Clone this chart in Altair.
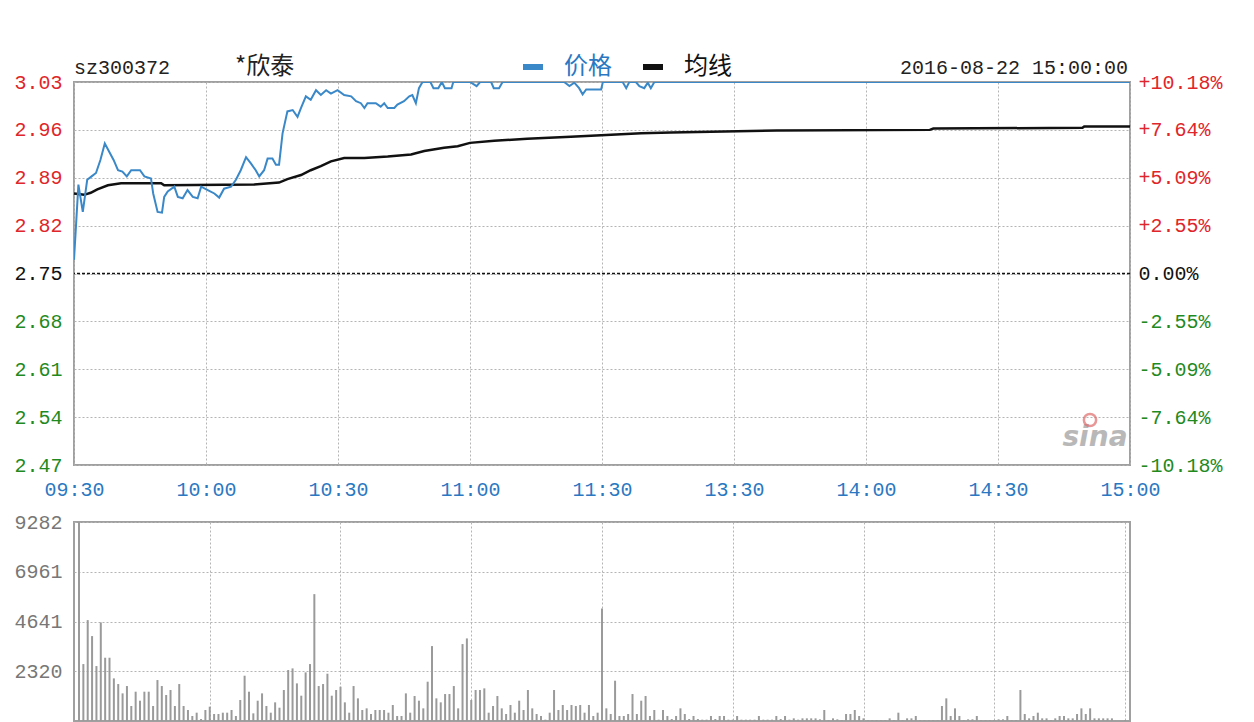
import altair as alt
import pandas as pd

# ---------------- data ----------------
stock_code = "sz300372"
stock_name = "*欣泰"
stamp = "2016-08-22 15:00:00"
prev_close = 2.75

time_labels = ["09:30", "10:00", "10:30", "11:00", "11:30", "13:30", "14:00", "14:30", "15:00"]
tick_minutes = [0, 30, 60, 90, 120, 150, 180, 210, 240]
price_ticks = [2.47, 2.54, 2.61, 2.68, 2.75, 2.82, 2.89, 2.96, 3.03]
vol_ticks = [2320.5, 4641, 6961.5, 9282]

price_t = [0, 1, 2, 3, 4, 5, 6, 7, 8, 9, 10, 11, 12, 13, 15, 16, 17.5, 18, 19, 20, 20.5,
           21.3, 22.8, 23.6, 24.7, 25.8, 27, 28.1, 28.9, 30.4, 31.9, 33, 34.1, 35.7, 36.8,
           37.9, 39.1, 40.2, 41.3, 42.1, 43.2, 44, 45.1, 45.9, 46.6, 47.4, 48.5, 49.7, 50.8,
           51.6, 52.7, 53.8, 55, 56.1, 57.3, 58.4, 59.9, 61.4, 63, 64.1, 65.2, 66, 66.7,
           68.6, 69.7, 70.5, 71.3, 72.8, 73.5, 75, 76.2, 76.9, 77.7, 78.4, 79.2, 81, 81.7,
           82.8, 83.6, 84.3, 85.8, 86.2, 90, 91.5, 92.3, 94.8, 95.4, 96.6, 97.4, 111.4,
           112.6, 113.7, 114.8, 115.6, 116.4, 119.8, 120.2, 124.7, 125.5, 126.2, 127.7,
           128.5, 129.6, 130.4, 131.1, 131.9, 240]
price_v = [2.77, 2.88, 2.84, 2.887, 2.892, 2.897, 2.916, 2.94, 2.928, 2.916, 2.901, 2.899,
           2.892, 2.901, 2.901, 2.892, 2.889, 2.867, 2.84, 2.839, 2.862, 2.87, 2.877, 2.862,
           2.86, 2.872, 2.862, 2.86, 2.877, 2.872, 2.867, 2.861, 2.874, 2.877, 2.887, 2.901,
           2.92, 2.911, 2.901, 2.892, 2.901, 2.918, 2.918, 2.909, 2.909, 2.955, 2.987, 2.989,
           2.979, 2.992, 3.009, 3.004, 3.018, 3.011, 3.018, 3.013, 3.018, 3.011, 3.009, 3.002,
           2.999, 2.992, 2.999, 2.999, 2.994, 2.999, 2.992, 2.992, 2.997, 3.002, 3.009, 3.011,
           2.999, 3.021, 3.03, 3.03, 3.021, 3.021, 3.03, 3.021, 3.021, 3.03, 3.03, 3.024, 3.03,
           3.03, 3.021, 3.021, 3.03, 3.03, 3.024, 3.029, 3.021, 3.012, 3.019, 3.019, 3.03,
           3.03, 3.021, 3.03, 3.03, 3.024, 3.021, 3.029, 3.021, 3.03, 3.03]

avg_t = [0, 2.3, 3.8, 5.3, 7.7, 10.7, 19.8, 20.5, 40.9, 46.6, 48.5, 51.6, 53.8, 56.1, 58.4,
         61.4, 66, 71.3, 76.6, 79.6, 84.1, 87.2, 90, 95.5, 103, 112.9, 119.8, 128.9, 135.7,
         159.7, 194.5, 195.3, 229.2, 229.6, 240]
avg_v = [2.867, 2.865, 2.868, 2.873, 2.879, 2.882, 2.882, 2.879, 2.880, 2.883, 2.888, 2.894,
         2.901, 2.907, 2.914, 2.919, 2.919, 2.921, 2.924, 2.929, 2.934, 2.936, 2.941, 2.944,
         2.947, 2.95, 2.952, 2.955, 2.956, 2.959, 2.96, 2.962, 2.963, 2.965, 2.965]

volume = [9282, 2656, 4707, 3961, 2563, 4598, 2951, 2951, 1988, 1724, 1289, 1631, 699, 1367,
          947, 1367, 1367, 699, 1911, 1631, 1212, 1445, 699, 1724, 699, 513, 233, 388, 92, 513,
          668, 326, 326, 388, 388, 513, 233, 979, 2112, 1367, 357, 947, 1289, 699, 388, 870,
          621, 1445, 2377, 2454, 1755, 1180, 2268, 2656, 5918, 1631, 1724, 2206, 1180, 1445,
          1600, 870, 388, 1631, 1056, 513, 590, 326, 513, 513, 513, 388, 746, 233, 233, 1289,
          388, 1165, 947, 590, 1833, 3495, 1056, 870, 1258, 1258, 1631, 590, 3588, 3852, 979,
          1445, 1445, 1522, 388, 699, 1165, 590, 326, 746, 388, 947, 513, 1445, 590, 326, 233,
          62, 388, 1445, 513, 746, 513, 746, 699, 746, 388, 746, 233, 388, 5250, 590, 326,
          1879, 233, 233, 326, 1258, 326, 947, 1165, 233, 513, 62, 513, 233, 92, 233, 590, 326,
          92, 233, 92, 62, 62, 233, 92, 233, 233, 62, 62, 233, 62, 62, 62, 62, 233, 62, 62, 62,
          233, 92, 233, 62, 124, 62, 124, 124, 124, 124, 78, 513, 47, 124, 78, 47, 326, 326,
          513, 233, 124, 47, 47, 47, 47, 47, 124, 47, 388, 47, 124, 124, 233, 47, 47, 47, 47,
          47, 699, 1056, 233, 590, 233, 47, 78, 78, 233, 47, 47, 47, 47, 78, 78, 233, 47, 47,
          1445, 326, 124, 233, 388, 124, 124, 47, 124, 233, 233, 124, 124, 326, 590, 326, 590,
          124, 124, 124, 124, 124, 0, 0, 47]

# ---------------- styling ----------------
RED = "#e0262b"
GREEN = "#1f8a1f"
AXIS_BLUE = "#2a78c2"
LINE_BLUE = "#3a88c8"
GRID = "#b4b4b4"
MONO = "Liberation Mono"
CJK = "Noto Sans CJK SC"
W = 1056
H_PRICE = 383
H_VOL = 199

price_df = pd.DataFrame({"t": price_t, "v": price_v, "s": "价格"})
avg_df = pd.DataFrame({"t": avg_t, "v": avg_v, "s": "均线"})
vol_df = pd.DataFrame({"t": list(range(len(volume))), "vol": volume})

label_list = "[" + ",".join("'%s'" % s for s in time_labels) + "]"
time_expr = label_list + "[round(datum.value/30)]"
color_expr = (f"datum.value > {prev_close + 0.001} ? '{RED}' : "
              f"(datum.value < {prev_close - 0.001} ? '{GREEN}' : '#111111')")
pct_expr = (f"(datum.value > {prev_close + 0.001} ? '+' : (datum.value < {prev_close - 0.001} ? '-' : '')) + "
            f"format(abs(datum.value/{prev_close}-1)*100, '.2f') + '%'")

x_scale = alt.Scale(domain=[0, 240], nice=False, zero=False)
y_scale = alt.Scale(domain=[2.47, 3.03], nice=False, zero=False)
color_scale = alt.Scale(domain=["价格", "均线"], range=[LINE_BLUE, "#111111"])

x_axis_price = alt.Axis(values=tick_minutes, labelExpr=time_expr, grid=True, gridDash=[2, 2],
                        gridColor=GRID, ticks=False, domain=False, labelColor=AXIS_BLUE,
                        labelFont=MONO, labelFontSize=20, labelPadding=14, labelFlush=False,
                        labelOverlap=False, minExtent=40, maxExtent=40, title=None)
y_axis_left = alt.Axis(values=price_ticks, format=".2f", grid=True, gridDash=[2, 2],
                       gridColor=GRID, ticks=False, domain=False, labelFont=MONO,
                       labelFontSize=20, labelPadding=12, labelColor={"expr": color_expr},
                       labelOverlap=False, labelFlush=False, minExtent=65, maxExtent=65,
                       title=None)
y_axis_right = alt.Axis(orient="right", values=price_ticks, labelExpr=pct_expr, grid=False,
                        ticks=False, domain=False, labelFont=MONO, labelFontSize=20,
                        labelPadding=8, labelColor={"expr": color_expr}, labelOverlap=False,
                        labelFlush=False, title=None)

legend = alt.Legend(orient="none", legendX=446, legendY=-28, direction="horizontal",
                    title=None, symbolType="stroke", symbolSize=400, symbolStrokeWidth=6,
                    labelFont=CJK, labelFontSize=24, labelOffset=18, columnPadding=19,
                    padding=0, labelColor={"expr": f"datum.label == '价格' ? '{AXIS_BLUE}' : '#111111'"})

price_line = alt.Chart(price_df).mark_line(strokeWidth=2, clip=True).encode(
    x=alt.X("t:Q", scale=x_scale, axis=x_axis_price),
    y=alt.Y("v:Q", scale=y_scale, axis=y_axis_left),
    color=alt.Color("s:N", scale=color_scale, legend=legend),
)
avg_line = alt.Chart(avg_df).mark_line(strokeWidth=2.5).encode(
    x=alt.X("t:Q", scale=x_scale),
    y=alt.Y("v:Q", scale=y_scale, axis=y_axis_right),
    color=alt.Color("s:N", scale=color_scale, legend=legend),
)
zero_rule = alt.Chart(pd.DataFrame({"p": [prev_close]})).mark_rule(
    color="#111111", strokeDash=[3, 2], strokeWidth=1.6).encode(
    y=alt.Y("p:Q", scale=y_scale, axis=None))

head = pd.DataFrame({"code": [stock_code], "name": [stock_name], "stamp": [stamp], "wm": ["sina"]})
code_txt = alt.Chart(head).mark_text(align="left", baseline="alphabetic", font=MONO,
                                     fontSize=20, color="#222222").encode(
    x=alt.value(0), y=alt.value(-8), text="code:N")
name_txt = alt.Chart(head).mark_text(align="left", baseline="alphabetic", font=CJK,
                                     fontSize=24, color="#222222").encode(
    x=alt.value(161), y=alt.value(-8), text="name:N")
stamp_txt = alt.Chart(head).mark_text(align="right", baseline="alphabetic", font=MONO,
                                      fontSize=20, color="#222222").encode(
    x=alt.value(1054), y=alt.value(-8), text="stamp:N")
wm_txt = alt.Chart(head).mark_text(align="center", baseline="alphabetic", font="DejaVu Sans",
                                   fontSize=28, fontStyle="italic", fontWeight="bold",
                                   color="#b8b8b8").encode(
    x=alt.value(1021), y=alt.value(364), text="wm:N")
wm_eye = alt.Chart(head).mark_point(shape="circle", size=150, filled=False, stroke="#e06a6a",
                                    strokeWidth=2.5).encode(x=alt.value(1016), y=alt.value(338))

price_chart = alt.layer(
    zero_rule, avg_line, price_line, code_txt, name_txt, stamp_txt, wm_txt, wm_eye
).resolve_axis(y="independent").properties(width=W, height=H_PRICE)

vol_chart = alt.Chart(vol_df).mark_bar(size=2, color="#9a9a9a").encode(
    x=alt.X("t:Q", scale=x_scale,
            axis=alt.Axis(values=tick_minutes, labels=False, grid=True, gridDash=[2, 2],
                          gridColor=GRID, ticks=False, domain=False, title=None)),
    y=alt.Y("vol:Q", scale=alt.Scale(domain=[0, 9282], nice=False),
            axis=alt.Axis(values=vol_ticks, labelExpr="floor(datum.value)", grid=True,
                          gridDash=[2, 2], gridColor=GRID, ticks=False, domain=False,
                          labelFont=MONO, labelFontSize=20, labelPadding=12,
                          labelColor="#777777", labelOverlap=False, labelFlush=False,
                          minExtent=65, maxExtent=65, title=None)),
).properties(width=W, height=H_VOL)

chart = alt.vconcat(price_chart, vol_chart, spacing=5).properties(
    padding={"left": 0, "top": 46, "right": 0, "bottom": 0},
    background="white",
).configure_view(stroke="#a0a0a0", strokeWidth=2)

chart.save("out.html", embed_options={"renderer": "svg", "actions": False})
